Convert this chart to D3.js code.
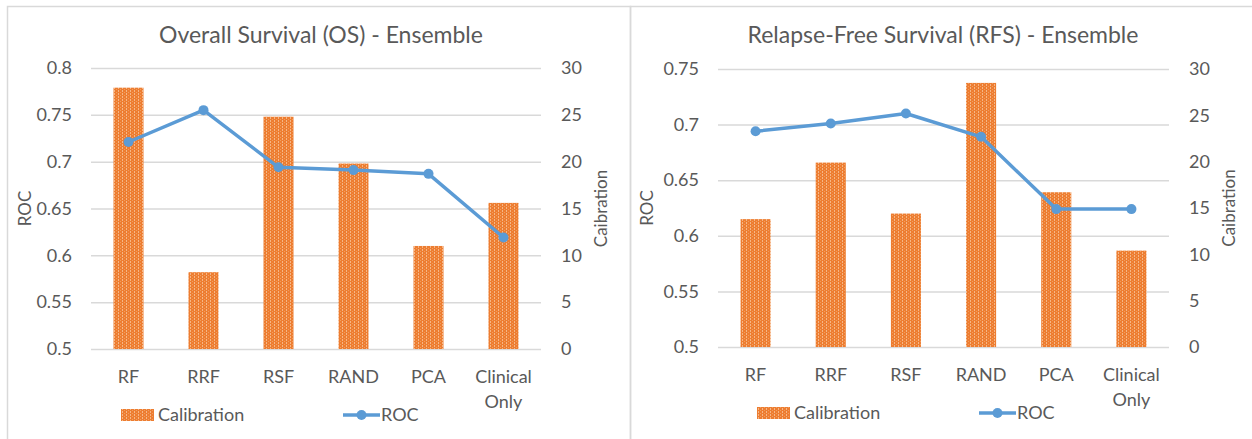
<!DOCTYPE html>
<html>
<head>
<meta charset="utf-8">
<script src="https://cdn.jsdelivr.net/npm/d3@7"></script>
<style>
  body { margin: 0; background: #fff; }
  text { font-family: Lato, "Noto Sans", sans-serif; fill: #595959; }
</style>
</head>
<body>
<div id="chart"></div>
<script>
// categories and values
var categories = ["RF", "RRF", "RSF", "RAND", "PCA", "Clinical Only"];

var osCalibration = [27.9, 8.2, 24.8, 19.8, 11.0, 15.6];
var osRoc = [0.721, 0.755, 0.694, 0.691, 0.687, 0.619];

var rfsCalibration = [13.8, 19.9, 14.4, 28.5, 16.7, 10.4];
var rfsRoc = [0.694, 0.701, 0.710, 0.689, 0.624, 0.624];

var osRocTicks = [0.5, 0.55, 0.6, 0.65, 0.7, 0.75, 0.8];
var rfsRocTicks = [0.5, 0.55, 0.6, 0.65, 0.7, 0.75];
var calTicks = [0, 5, 10, 15, 20, 25, 30];

var W = 1252, H = 439;

var svg = d3.select("#chart")
    .append("svg")
    .attr("width", W)
    .attr("height", H);

// bar fill pattern (orange with light vertical stripes)
var defs = svg.append("defs");
var pat = defs.append("pattern")
    .attr("id", "calPattern")
    .attr("patternUnits", "userSpaceOnUse")
    .attr("width", 4)
    .attr("height", 3);
pat.append("rect").attr("width", 4).attr("height", 3).attr("fill", "#ED7D31");
pat.append("rect").attr("x", 2).attr("width", 1).attr("height", 2).attr("fill", "#F6B685");
pat.append("rect").attr("x", 0).attr("y", 2).attr("width", 1).attr("height", 1).attr("fill", "#F29E5E");

// frames around the two charts
svg.append("rect").attr("x", 7.5).attr("y", 6.5).attr("width", 623).attr("height", 440)
    .attr("fill", "none").attr("stroke", "#D9D9D9").attr("stroke-width", 1.5);
svg.append("rect").attr("x", 630.5).attr("y", 6.5).attr("width", 630).attr("height", 440)
    .attr("fill", "none").attr("stroke", "#D9D9D9").attr("stroke-width", 1.5);

function drawChart(opt) {
    var g = svg.append("g");
    var left = opt.left, right = opt.right, top = opt.top, bottom = opt.bottom;

    var x = d3.scaleBand()
        .domain(categories)
        .range([left, right])
        .paddingInner(0.6)
        .paddingOuter(0.3);

    var yRoc = d3.scaleLinear()
        .domain(d3.extent(opt.rocTicks))
        .range([bottom, top]);

    var yCal = d3.scaleLinear()
        .domain(d3.extent(calTicks))
        .range([bottom, top]);

    // gridlines
    g.append("g")
        .attr("transform", "translate(" + left + ",0)")
        .call(d3.axisLeft(yRoc).tickValues(opt.rocTicks).tickSize(-(right - left)).tickFormat(""))
        .call(function (a) { a.select(".domain").remove(); })
        .selectAll("line")
        .attr("stroke", "#D9D9D9")
        .attr("stroke-width", 1.5);

    // left axis labels
    g.append("g")
        .attr("transform", "translate(" + (left - 19) + ",0)")
        .call(d3.axisLeft(yRoc).tickValues(opt.rocTicks).tickSize(0).tickPadding(0)
            .tickFormat(function (d) { return String(+d.toFixed(2)); }))
        .call(function (a) { a.select(".domain").remove(); })
        .selectAll("text")
        .style("font-size", "18px")
        .attr("fill", "#595959");

    // right axis labels
    g.append("g")
        .attr("transform", "translate(" + (right + 20) + ",0)")
        .call(d3.axisRight(yCal).tickValues(calTicks).tickSize(0).tickPadding(0))
        .call(function (a) { a.select(".domain").remove(); })
        .selectAll("text")
        .style("font-size", "18px")
        .attr("fill", "#595959");

    // bars
    g.append("g")
        .selectAll("rect")
        .data(opt.cal)
        .enter()
        .append("rect")
        .attr("x", function (d, i) { return x(categories[i]); })
        .attr("width", x.bandwidth())
        .attr("y", function (d) { return yCal(d); })
        .attr("height", function (d) { return yCal(0) - yCal(d); })
        .attr("fill", "url(#calPattern)");

    // ROC line
    var line = d3.line()
        .x(function (d, i) { return x(categories[i]) + x.bandwidth() / 2; })
        .y(function (d) { return yRoc(d); });

    g.append("path")
        .datum(opt.roc)
        .attr("d", line)
        .attr("fill", "none")
        .attr("stroke", "#5B9BD5")
        .attr("stroke-width", 3.5)
        .attr("stroke-linejoin", "round");

    g.append("g")
        .selectAll("circle")
        .data(opt.roc)
        .enter()
        .append("circle")
        .attr("cx", function (d, i) { return x(categories[i]) + x.bandwidth() / 2; })
        .attr("cy", function (d) { return yRoc(d); })
        .attr("r", 5)
        .attr("fill", "#5B9BD5");

    // category labels
    var lab = g.append("g")
        .selectAll("text")
        .data(categories)
        .enter()
        .append("text")
        .attr("text-anchor", "middle")
        .attr("x", function (d) { return x(d) + x.bandwidth() / 2; })
        .attr("y", bottom + 34)
        .style("font-size", "18px");
    lab.each(function (d) {
        var words = d.split(" ");
        var t = d3.select(this);
        words.forEach(function (w, k) {
            t.append("tspan")
                .attr("x", x(d) + x.bandwidth() / 2)
                .attr("dy", k === 0 ? 0 : 25)
                .text(w);
        });
    });

    // title
    g.append("text")
        .attr("x", opt.titleX)
        .attr("y", 43)
        .attr("text-anchor", "middle")
        .style("font-size", "23px")
        .text(opt.title);

    // axis titles
    g.append("text")
        .attr("transform", "translate(" + (opt.rocTitleX) + "," + ((top + bottom) / 2) + ") rotate(-90)")
        .attr("text-anchor", "middle")
        .attr("dy", "0.35em")
        .style("font-size", "17px")
        .text("ROC");

    g.append("text")
        .attr("transform", "translate(" + (right + 60) + "," + ((top + bottom) / 2) + ") rotate(-90)")
        .attr("text-anchor", "middle")
        .attr("dy", "0.35em")
        .style("font-size", "17px")
        .text("Caibration");

    // legend
    var ly = bottom + 66;
    g.append("rect")
        .attr("x", opt.legX)
        .attr("y", ly - 6)
        .attr("width", 33)
        .attr("height", 12)
        .attr("fill", "url(#calPattern)");
    g.append("text")
        .attr("x", opt.legX + 37)
        .attr("y", ly)
        .attr("dy", "0.35em")
        .style("font-size", "18px")
        .text("Calibration");
    g.append("line")
        .attr("x1", opt.legX2)
        .attr("x2", opt.legX2 + 37)
        .attr("y1", ly)
        .attr("y2", ly)
        .attr("stroke", "#5B9BD5")
        .attr("stroke-width", 3.5);
    g.append("circle")
        .attr("cx", opt.legX2 + 18.5)
        .attr("cy", ly)
        .attr("r", 5)
        .attr("fill", "#5B9BD5");
    g.append("text")
        .attr("x", opt.legX2 + 38)
        .attr("y", ly)
        .attr("dy", "0.35em")
        .style("font-size", "18px")
        .text("ROC");
}

drawChart({
    title: "Overall Survival (OS) - Ensemble",
    cal: osCalibration, roc: osRoc, rocTicks: osRocTicks,
    left: 91, right: 541, top: 68, bottom: 349,
    titleX: 321, rocTitleX: 25, legX: 121, legX2: 343
});

drawChart({
    title: "Relapse-Free Survival (RFS) - Ensemble",
    cal: rfsCalibration, roc: rfsRoc, rocTicks: rfsRocTicks,
    left: 718, right: 1169, top: 69, bottom: 347,
    titleX: 943, rocTitleX: 647, legX: 757, legX2: 979
});
</script>
</body>
</html>
